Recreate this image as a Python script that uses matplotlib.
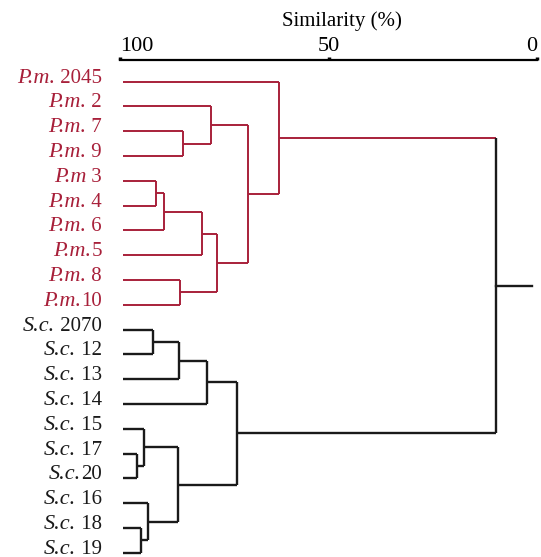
import matplotlib
matplotlib.use("Agg")
import matplotlib.pyplot as plt

plt.rcParams["font.family"] = ["Liberation Serif", "DejaVu Serif"]

RED = "#a8203a"
BLACK = "#1a1a1a"

# leaf labels, top to bottom: italic genus part + strain number
leaf_genus = ["P.m.", "P.m.", "P.m.", "P.m.", "P.m", "P.m.", "P.m.", "P.m.", "P.m.", "P.m.",
              "S.c.", "S.c.", "S.c.", "S.c.", "S.c.", "S.c.", "S.c.", "S.c.", "S.c.", "S.c."]
leaf_number = [" 2045", " 2", " 7", " 9", " 3", " 4", " 6", "5", " 8", "10",
               " 2070", " 12", " 13", " 14", " 15", " 17", "20", " 16", " 18", " 19"]

# merges: (child a, child b, similarity %), new nodes numbered from 20 on
merge_a = [2, 1, 4, 22, 23, 8, 24, 21, 0, 10, 29, 30, 15, 14, 18, 17, 33, 31, 28]
merge_b = [3, 20, 5, 6, 7, 9, 25, 26, 27, 11, 12, 13, 16, 32, 19, 34, 35, 36, 37]
merge_sim = [85.0, 78.2, 91.3, 89.4, 80.3, 85.5, 76.7, 69.4, 61.8,
             92.2, 85.9, 79.1, 96.0, 94.2, 94.9, 93.2, 86.2, 71.9, 9.9]
root_stub = 1.2

n_leaves = len(leaf_number)

fig = plt.figure(figsize=(5.41, 5.57), dpi=100)
ax = fig.add_axes([120 / 541, 0.0, 417 / 541, 1 - 60 / 557])

ypos = {i: float(i) for i in range(n_leaves)}
xpos = {i: 100.0 for i in range(n_leaves)}
color = {i: (RED if leaf_genus[i].startswith("P") else BLACK) for i in range(n_leaves)}

for k, (a, b, s) in enumerate(zip(merge_a, merge_b, merge_sim)):
    node = n_leaves + k
    col = color[a] if color[a] == color[b] else BLACK
    color[node] = col
    ypos[node] = (ypos[a] + ypos[b]) / 2
    xpos[node] = s
    for c in (a, b):
        lw = 1.4 if color[c] == RED else 1.7
        x0 = xpos[c] - 0.6 if c < n_leaves else xpos[c]
        ax.plot([x0, s], [ypos[c], ypos[c]], color=color[c], lw=lw, solid_capstyle="butt")
    ax.plot([s, s], [ypos[a], ypos[b]], color=col, lw=1.4 if col == RED else 1.7,
            solid_capstyle="butt")

root = n_leaves + len(merge_sim) - 1
ax.plot([xpos[root], root_stub], [ypos[root], ypos[root]], color=BLACK, lw=1.7)

ax.set_xlim(100, 0)
ax.set_ylim(19.17, -0.875)

for i in range(n_leaves):
    num = ax.annotate(leaf_number[i], xy=(100, i), xytext=(-18, -1), textcoords="offset pixels",
                      ha="right", va="baseline", fontsize=15, color=color[i],
                      annotation_clip=False)
    ax.annotate(leaf_genus[i], xy=(0, 0), xycoords=num, ha="right", va="bottom",
                fontsize=16, style="italic", color=color[i], annotation_clip=False)

for side in ("left", "right", "bottom"):
    ax.spines[side].set_visible(False)
ax.spines["top"].set_linewidth(1.6)
ax.set_yticks([])
ax.xaxis.tick_top()
ax.set_xticks([100, 50, 0])
ax.tick_params(axis="x", direction="out", length=2, width=2.5, pad=1, labelsize=16)
labels = ax.get_xticklabels()
labels[0].set_ha("left")
labels[-1].set_ha("right")

fig.text(342 / 541, 1 - 21 / 557, "Similarity (%)", ha="center", va="center", fontsize=15)

fig.savefig("out.png", dpi=100)
